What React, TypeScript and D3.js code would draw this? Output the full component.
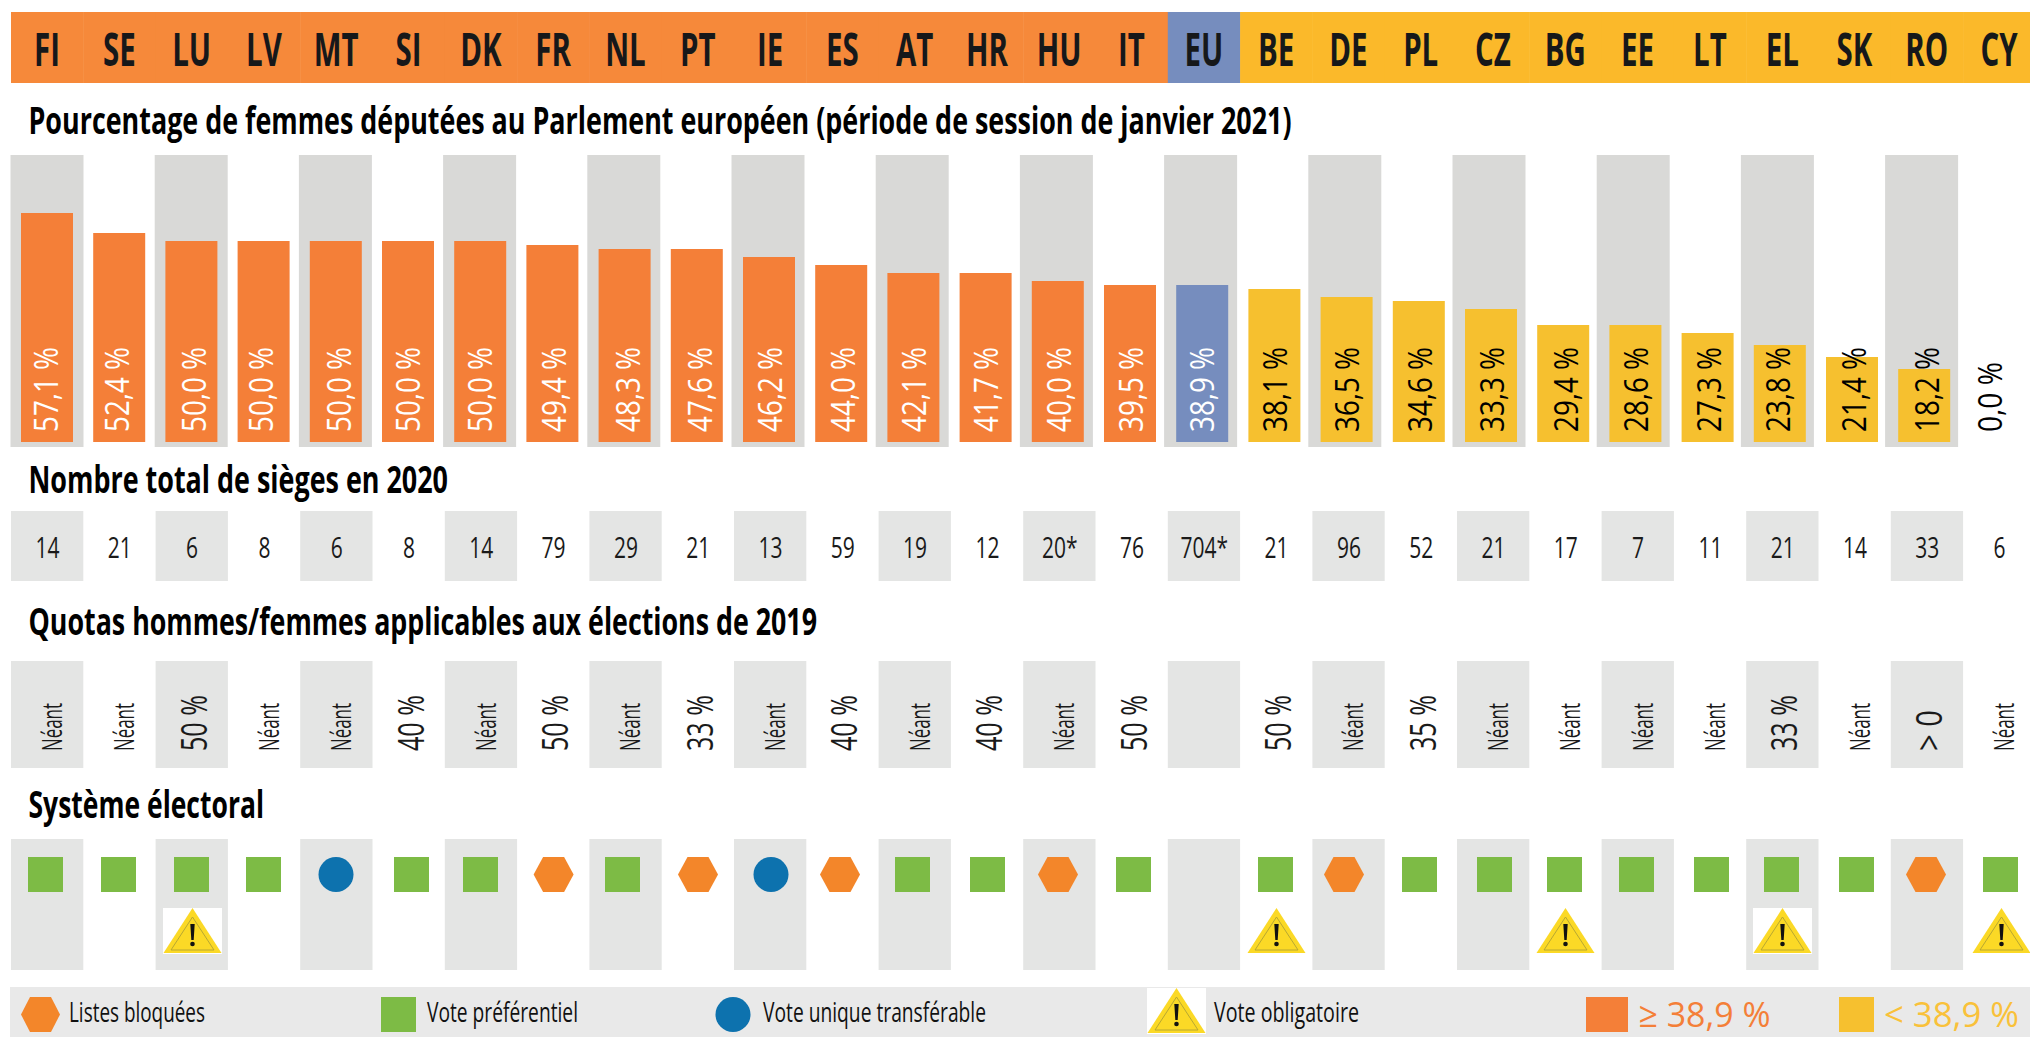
import React from "react";
import * as d3 from "d3";

// ---------- data ----------
const countries = ["FI","SE","LU","LV","MT","SI","DK","FR","NL","PT","IE","ES","AT","HR","HU","IT","EU","BE","DE","PL","CZ","BG","EE","LT","EL","SK","RO","CY"];
const womenShare = [57.1,52.4,50.0,50.0,50.0,50.0,50.0,49.4,48.3,47.6,46.2,44.0,42.1,41.7,40.0,39.5,38.9,38.1,36.5,34.6,33.3,29.4,28.6,27.3,23.8,21.4,18.2,0.0];
const seats = ["14","21","6","8","6","8","14","79","29","21","13","59","19","12","20*","76","704*","21","96","52","21","17","7","11","21","14","33","6"];
const quotas = ["Néant","Néant","50 %","Néant","Néant","40 %","Néant","50 %","Néant","33 %","Néant","40 %","Néant","40 %","Néant","50 %","","50 %","Néant","35 %","Néant","Néant","Néant","Néant","33 %","Néant",">\u00a00","Néant"];
const systems = ["P","P","P","P","S","P","P","L","P","L","S","L","P","P","L","P","","P","L","P","P","P","P","P","P","P","L","P"];
const compulsory = ["LU","BE","BG","EL","CY"];
const threshold = 38.9;

// ---------- layout helpers (offsets, not values) ----------
const valueNudge = [0,-1.3,3.4,-1.9,3.8,0.5,0.2,1.9,3.6,3.3,1,1.7,0.4,0,0.8,0,-0.8,0,-0.4,-0.2,0,1.7,-0.6,0,-3.2,0.5,1.2,-8.6];
const markNudge = [-2,-1.3,-0.6,-0.9,-0.7,2.5,-0.8,0,-3.4,-0.2,0.5,-2.8,-2.6,0.1,-1.7,1.5,0,-1.1,-4.9,-1.7,1,-1.3,-1.6,1.1,-1.2,1.5,-1.3,0.9];
const warnBox = ["LU","EL"];

const W = 2030, H = 1037;
const SANS = "'Open Sans', 'Noto Sans', sans-serif";
const ORANGE = "#f47f38", YELLOW = "#f6c02f", BLUE = "#768dbe";
const HEAD_ORANGE = "#f6893a", HEAD_YELLOW = "#fbb92a";
const GREEN = "#7dbb45", HEX = "#f3862a", CIRC = "#0d72ae", TRI = "#fbd926";

const rowBand = d3.scaleBand<string>().domain(countries).range([11, 11 + 72.3 * 28]);
const barBand = d3.scaleBand<string>().domain(countries).range([21, 21 + 72.2 * 28]);
const chartBand = d3.scaleBand<string>().domain(countries).range([10.5, 10.5 + 72.1 * 28]);
const centre = (c: string) => (rowBand(c) as number) + 36.5;
const y = d3.scaleLinear().domain([0, 1]).range([442, 438]);
const quantise = (v: number) => Math.ceil(v - 0.5);
const fmt = (v: number) => v.toFixed(1).replace(".", ",") + " %";
const fillOf = (c: string, v: number) => (c === "EU" ? BLUE : v >= threshold ? ORANGE : YELLOW);
const headOf = (c: string, v: number) => (c === "EU" ? BLUE : v >= threshold ? HEAD_ORANGE : HEAD_YELLOW);
const line = d3.line();

function hexPath(cx: number, cy: number, w = 40, h = 35) {
  const a = w / 2, t = 10.5, b = h / 2;
  return line([[cx - a, cy],[cx - t, cy - b],[cx + t, cy - b],[cx + a, cy],[cx + t, cy + b],[cx - t, cy + b]]) + "Z";
}

function Warning({ cx, top, box }: { cx: number; top: number; box: boolean }) {
  const w = 58, h = 45;
  const outer = line([[cx, top],[cx + w / 2, top + h],[cx - w / 2, top + h]]) + "Z";
  const inner = line([[cx, top + 9],[cx + 21.5, top + 42],[cx - 21.5, top + 42]]) + "Z";
  return (
    <g>
      {box && <rect x={cx - 29.5} y={top} width={59} height={46} fill="#fff" />}
      <path d={outer} fill={TRI} />
      <path d={inner} fill="none" stroke="#b0a233" strokeWidth={0.9} />
      <path d={line([[cx - 2.2, top + 16],[cx + 2.2, top + 16],[cx + 1.2, top + 32],[cx - 1.2, top + 32]]) + "Z"} fill="#111" />
      <circle cx={cx} cy={top + 36} r={2.3} fill="#111" />
    </g>
  );
}

function Title({ y: yy, len, children }: { y: number; len: number; children: string }) {
  return (
    <text x={28.5} y={yy} fontFamily={SANS} fontWeight={700} fontSize={37} fill="#000" textLength={len} lengthAdjust="spacingAndGlyphs">
      {children}
    </text>
  );
}

function LegendText({ x, len, children }: { x: number; len: number; children: string }) {
  return (
    <text x={x} y={1022} fontFamily={SANS} fontSize={27} fill="#111" textLength={len} lengthAdjust="spacingAndGlyphs">
      {children}
    </text>
  );
}

export default function App() {
  return (
    <svg width={W} height={H} viewBox={`0 0 ${W} ${H}`} style={{ position: "absolute", left: 0, top: 0, display: "block", background: "#fff" }}>
      {/* header strip */}
      {countries.map((c, i) => (
        <rect key={c} x={rowBand(c)} y={12} width={rowBand.bandwidth() + 0.5} height={71} fill={headOf(c, womenShare[i])} />
      ))}
      {countries.map((c) => (
        <text key={c} transform={`translate(${centre(c) - 0.5},66) scale(0.64,1)`} textAnchor="middle" fontFamily={SANS} fontWeight={700} fontSize={46} fill="#16181a">
          {c}
        </text>
      ))}

      <Title y={134} len={1263}>Pourcentage de femmes députées au Parlement européen (période de session de janvier 2021)</Title>

      {/* bars */}
      {countries.map((c, i) => i % 2 === 0 && (
        <rect key={c} x={chartBand(c)} y={155} width={73} height={292} fill="#d9d9d7" />
      ))}
      {countries.map((c, i) => {
        const v = womenShare[i];
        if (v === 0) return null;
        const top = y(quantise(v)) - 1;
        return <rect key={c} x={barBand(c)} y={top} width={52} height={442 - top} fill={fillOf(c, v)} />;
      })}
      {countries.map((c, i) => {
        const v = womenShare[i];
        const bx = centre(c) + 10.5 + valueNudge[i];
        return (
          <text key={c} transform={`translate(${bx},432) rotate(-90)`} fontFamily={SANS} fontWeight={400} fontSize={33}
            fill={c === "EU" || v >= threshold ? "#fff" : "#000"} textLength={v === 0 ? 70 : 85} lengthAdjust="spacingAndGlyphs">
            {fmt(v)}
          </text>
        );
      })}

      <Title y={493} len={419.5}>Nombre total de sièges en 2020</Title>

      {/* seats */}
      {countries.map((c, i) => i % 2 === 0 && (
        <rect key={c} x={rowBand(c)} y={511} width={72.3} height={70} fill="#e4e5e4" />
      ))}
      {countries.map((c, i) => (
        <text key={c} transform={`translate(${centre(c)},558) scale(0.7,1)`} textAnchor="middle" fontFamily={SANS} fontSize={30} fill="#1a1a1a">
          {seats[i]}
        </text>
      ))}

      <Title y={635} len={788.5}>Quotas hommes/femmes applicables aux élections de 2019</Title>

      {/* quotas */}
      {countries.map((c, i) => i % 2 === 0 && (
        <rect key={c} x={rowBand(c)} y={661} width={72.3} height={107} fill="#e4e5e4" />
      ))}
      {countries.map((c, i) => {
        const q = quotas[i];
        if (!q) return null;
        const neant = q === "Néant";
        return (
          <text key={c} transform={`translate(${centre(c) + 14.5},751) rotate(-90)`} fontFamily={SANS} fontSize={neant ? 26.5 : 36}
            fill="#1a1a1a" textLength={neant ? 48 : q.includes("%") ? 56 : 41} lengthAdjust="spacingAndGlyphs">
            {q}
          </text>
        );
      })}

      <Title y={818} len={235.5}>Système électoral</Title>

      {/* electoral system */}
      {countries.map((c, i) => i % 2 === 0 && (
        <rect key={c} x={rowBand(c)} y={839} width={72.3} height={131} fill="#e4e5e4" />
      ))}
      {countries.map((c, i) => {
        const cx = centre(c) + markNudge[i];
        const cy = 874.5;
        if (systems[i] === "P") return <rect key={c} x={cx - 17.5} y={cy - 17.5} width={35} height={35} fill={GREEN} />;
        if (systems[i] === "S") return <circle key={c} cx={cx} cy={cy} r={17.5} fill={CIRC} />;
        if (systems[i] === "L") return <path key={c} d={hexPath(cx, cy)} fill={HEX} />;
        return null;
      })}
      {compulsory.map((c) => (
        <Warning key={c} cx={centre(c) + markNudge[countries.indexOf(c)] + 1} top={908} box={warnBox.includes(c)} />
      ))}

      {/* legend */}
      <rect x={10} y={987} width={2020} height={50} fill="#e9e9e9" />
      <path d={hexPath(40.5, 1014.5, 39, 35)} fill={HEX} />
      <LegendText x={69} len={136}>Listes bloquées</LegendText>
      <rect x={381} y={997} width={35} height={35} fill={GREEN} />
      <LegendText x={427} len={151}>Vote préférentiel</LegendText>
      <circle cx={733} cy={1014.5} r={17.5} fill={CIRC} />
      <LegendText x={763} len={223}>Vote unique transférable</LegendText>
      <Warning cx={1176.5} top={988} box={true} />
      <LegendText x={1214} len={145}>Vote obligatoire</LegendText>
      <rect x={1586} y={997} width={42} height={35} fill={ORANGE} />
      <text x={1638.5} y={1026.5} fontFamily={SANS} fontWeight={400} fontSize={35} fill={ORANGE} textLength={132} lengthAdjust="spacingAndGlyphs">≥ 38,9 %</text>
      <rect x={1839} y={997} width={35} height={35} fill={YELLOW} />
      <text x={1884} y={1026.5} fontFamily={SANS} fontWeight={400} fontSize={35} fill="#f9c13a" textLength={135} lengthAdjust="spacingAndGlyphs">{"<  38,9 %"}</text>
    </svg>
  );
}
